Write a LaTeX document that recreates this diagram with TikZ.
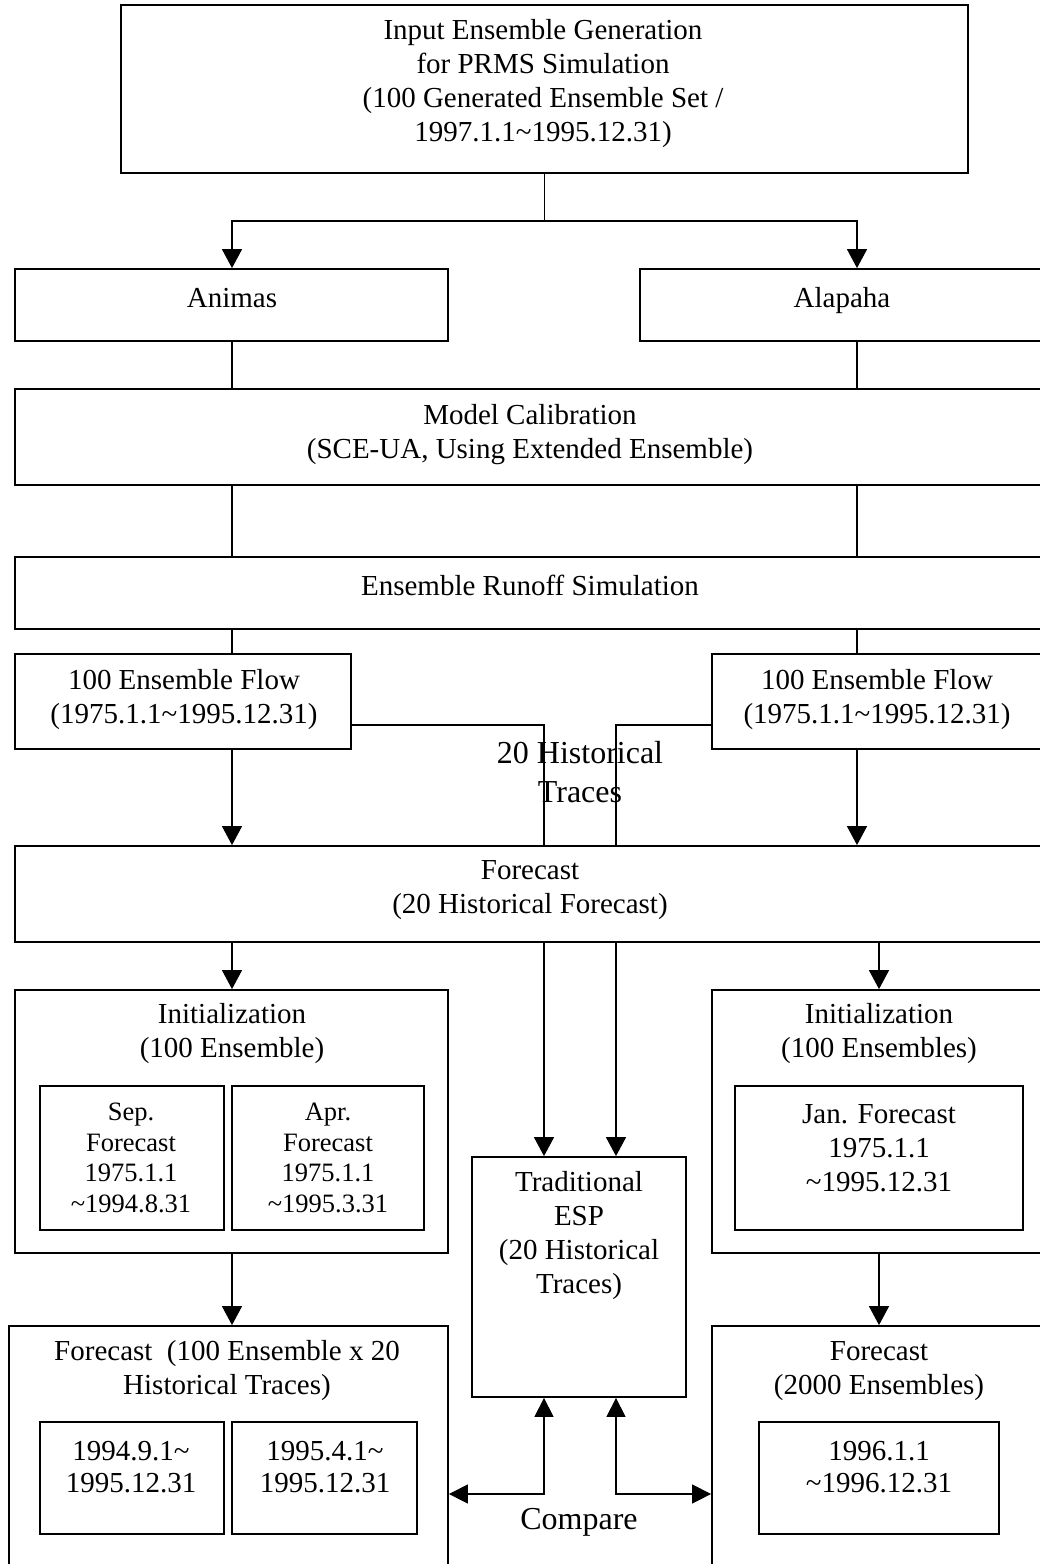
\documentclass[tikz,border=0pt]{standalone}
\usepackage{fontspec}
\setmainfont{Liberation Serif}
\usetikzlibrary{arrows.meta}
\newcommand\dbox[5]{\node[box, minimum width={(#4-#2)*1pt}, minimum height={(#5-#3)*1pt}] (#1) at ({(#2+#4)/2},{(#3+#5)/2}) {};}
\begin{document}
\begin{tikzpicture}[x=1pt,y=-1pt,
  box/.style={draw, line width=1.8pt, inner sep=0pt, rectangle},
  conn/.style={line width=1.4pt},
  arr/.style={conn, -{Triangle[width=20pt,length=19pt]}},
  darr/.style={conn, {Triangle[width=19pt,length=19pt]}-{Triangle[width=19pt,length=19pt]}},
  txt/.style={align=center, inner sep=0pt, font=\fontsize{29}{34}\selectfont},
  txtb/.style={align=center, inner sep=0pt, font=\fontsize{32}{39}\selectfont},
  txts/.style={align=center, inner sep=0pt, font=\fontsize{26.5}{30.5}\selectfont}]
\useasboundingbox (0,0) rectangle (1040,1564);
% boxes
\dbox{top}{121}{5}{968}{173}
\dbox{anim}{15}{269}{448}{341}
\dbox{alap}{640}{269}{1043}{341}
\dbox{calib}{15}{389}{1043}{485}
\dbox{runoff}{15}{557}{1043}{629}
\dbox{flowL}{15}{654}{351}{749}
\dbox{flowR}{712}{654}{1043}{749}
\dbox{fc}{15}{846}{1043}{942}
\dbox{initL}{15}{990}{448}{1253}
\dbox{sep}{40}{1086}{224}{1230}
\dbox{apr}{232}{1086}{424}{1230}
\dbox{initR}{712}{990}{1043}{1253}
\dbox{jan}{735}{1086}{1023}{1230}
\dbox{esp}{472}{1157}{686}{1397}
\dbox{fcL}{9}{1326}{448}{1580}
\dbox{d1}{40}{1422}{224}{1534}
\dbox{d2}{232}{1422}{417}{1534}
\dbox{fcR}{712}{1326}{1043}{1580}
\dbox{d3}{759}{1422}{999}{1534}
% texts
\node[txt] (ttop) at (543,84) {Input Ensemble Generation\\for PRMS Simulation\\(100 Generated Ensemble Set /\\1997.1.1\textasciitilde1995.12.31)};
\node[txt, anchor=base] (tanim) at (232,307) {Animas};
\node[txt, anchor=base] (talap) at (842,307) {Alapaha};
\node[txt] (tcalib) at (530,435) {Model Calibration\\(SCE-UA, Using Extended Ensemble)};
\node[txt, anchor=base] (trunoff) at (530,595) {Ensemble Runoff Simulation};
\node[txt] (tflowL) at (184,700) {100 Ensemble Flow\\(1975.1.1\textasciitilde1995.12.31)};
\node[txt] (tflowR) at (877,700) {100 Ensemble Flow\\(1975.1.1\textasciitilde1995.12.31)};
\node[txt] (tfc) at (530,890) {Forecast\\(20 Historical Forecast)};
\node[txt] (tinitL) at (232,1034) {Initialization\\(100 Ensemble)};
\node[txt] (tinitR) at (879,1034) {Initialization\\(100 Ensembles)};
\node[txts] (tsep) at (131,1158) {Sep.\\Forecast\\1975.1.1\\\textasciitilde1994.8.31};
\node[txts] (tapr) at (328,1158) {Apr.\\Forecast\\1975.1.1\\\textasciitilde1995.3.31};
\node[txt] (tjan) at (879,1148) {Jan. Forecast\\1975.1.1\\\textasciitilde1995.12.31};
\node[txt] (tesp) at (579,1236) {Traditional\\ESP\\(20 Historical\\Traces)};
\node[txt] (tfcL) at (227,1371) {Forecast\ \ (100 Ensemble x 20\\Historical Traces)};
\node[txt] (tfcR) at (879,1371) {Forecast\\(2000 Ensembles)};
\node[txt, font=\fontsize{29}{32}\selectfont] (td1) at (131,1467) {1994.9.1\textasciitilde\\1995.12.31};
\node[txt, font=\fontsize{29}{32}\selectfont] (td2) at (325,1467) {1995.4.1\textasciitilde\\1995.12.31};
\node[txt, font=\fontsize{29}{32}\selectfont] (td3) at (879,1467) {1996.1.1\\\textasciitilde1996.12.31};
\node[txtb] (ttraces) at (580,772) {20 Historical\\Traces};
\node[txtb, anchor=base] (tcmp) at (579,1529) {Compare};
% column coordinates
\coordinate (cL) at (232,0);
\coordinate (cR) at (857,0);
\coordinate (cR2) at (879,0);
\coordinate (cM1) at (544,0);
\coordinate (cM2) at (616,0);
\coordinate (j1) at (top.south |- 0,221);
\coordinate (cmp) at (0,1494);
% connectors
\draw[conn] (top.south) -- (j1);
\draw[arr] (j1) -| (cL |- anim.north);
\draw[arr] (j1) -| (cR |- alap.north);
\draw[conn] (cL |- anim.south) -- (cL |- calib.north);
\draw[conn] (cR |- alap.south) -- (cR |- calib.north);
\draw[conn] (cL |- calib.south) -- (cL |- runoff.north);
\draw[conn] (cR |- calib.south) -- (cR |- runoff.north);
\draw[conn] (cL |- runoff.south) -- (cL |- flowL.north);
\draw[conn] (cR |- runoff.south) -- (cR |- flowR.north);
\draw[arr] (cL |- flowL.south) -- (cL |- fc.north);
\draw[arr] (cR |- flowR.south) -- (cR |- fc.north);
\draw[conn] ([yshift=-23.5pt]flowL.east) -| (cM1 |- fc.north);
\draw[conn] ([yshift=-23.5pt]flowR.west) -| (cM2 |- fc.north);
\draw[arr] (cL |- fc.south) -- (cL |- initL.north);
\draw[arr] (cR2 |- fc.south) -- (cR2 |- initR.north);
\draw[arr] (cM1 |- fc.south) -- (cM1 |- esp.north);
\draw[arr] (cM2 |- fc.south) -- (cM2 |- esp.north);
\draw[arr] (cL |- initL.south) -- (cL |- fcL.north);
\draw[arr] (cR2 |- initR.south) -- (cR2 |- fcR.north);
\draw[darr] (cM1 |- esp.south) |- (fcL.east |- cmp);
\draw[darr] (cM2 |- esp.south) |- (fcR.west |- cmp);
\end{tikzpicture}
\end{document}
